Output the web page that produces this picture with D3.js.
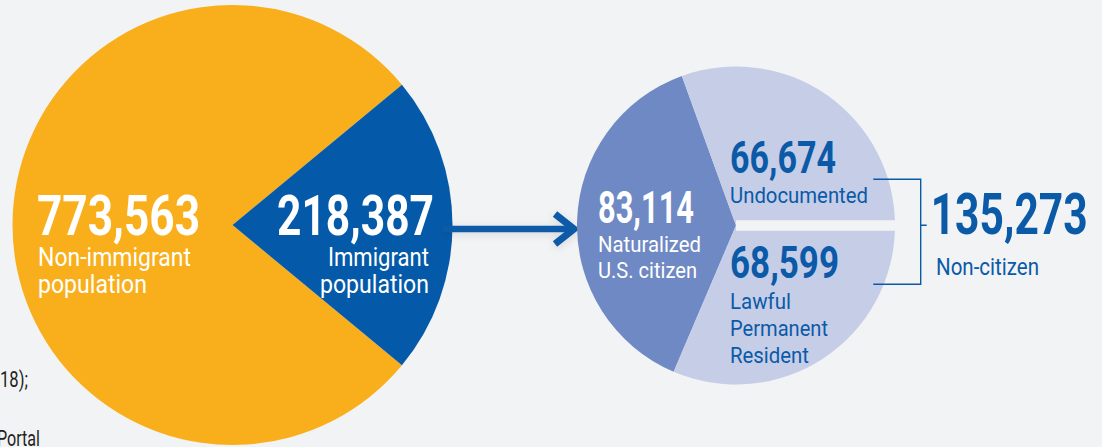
<!DOCTYPE html>
<html>
<head>
<meta charset="utf-8">
<script src="https://cdn.jsdelivr.net/npm/d3@7"></script>
<style>
  html, body { margin: 0; padding: 0; background: #f2f3f5; }
  svg { display: block; }
  text { font-family: Roboto, "Noto Sans", sans-serif; }
</style>
</head>
<body>
<svg id="chart" width="1102" height="447"></svg>
<script>
// ---- data ----
const mainCategories = ["Non-immigrant population", "Immigrant population"];
const mainValues = [773563, 218387];
const subCategories = ["Naturalized U.S. citizen", "Undocumented", "Lawful Permanent Resident"];
const subValues = [83114, 66674, 68599];
const nonCitizenLabel = "Non-citizen";
const nonCitizenValue = subValues[1] + subValues[2];

const mainColors = ["#f9af1b", "#045aa9"];
const subColors = ["#6f89c4", "#c6cde7", "#c6cde7"];
const bg = "#f2f3f5";
const blue = "#0a5aa8";

const fmt = d3.format(",");
const svg = d3.select("#chart");
svg.append("rect").attr("width", 1102).attr("height", 447).attr("fill", bg);

const defs = svg.append("defs");
const f = defs.append("filter").attr("id", "shadow").attr("x", "-20%").attr("y", "-100%").attr("width", "140%").attr("height", "300%");
f.append("feDropShadow").attr("dx", 0).attr("dy", 2).attr("stdDeviation", 4).attr("flood-color", "#000").attr("flood-opacity", 0.12);

// background fragments of cut-off text
svg.append("text").attr("x", 0).attr("y", 387).attr("font-size", 22).attr("fill", "#231f20")
  .attr("textLength", 28).attr("lengthAdjust", "spacingAndGlyphs").text("18);");
svg.append("text").attr("x", -3).attr("y", 446).attr("font-size", 22).attr("fill", "#231f20")
  .attr("textLength", 43).attr("lengthAdjust", "spacingAndGlyphs").text("Portal");

// ---- main pie ----
const mainTotal = d3.sum(mainValues);
const immAngle = mainValues[1] / mainTotal * 2 * Math.PI;
const mainStart = Math.PI / 2 + immAngle / 2;
const mainPie = d3.pie().sort(null).startAngle(mainStart).endAngle(mainStart + 2 * Math.PI);
const mc = { x: 232.5, y: 225, r: 220 };
const mainArc = d3.arc().innerRadius(0).outerRadius(mc.r);
const gMain = svg.append("g").attr("transform", `translate(${mc.x},${mc.y})`);
gMain.selectAll("path").data(mainPie(mainValues)).join("path")
  .attr("d", mainArc).attr("fill", (d, i) => mainColors[i]);

// ---- arrow ----
const sc = { x: 736, y: 225.5, r: 159 };
const arrowY = 229;
const ag = svg.append("g").attr("filter", "url(#shadow)");
ag.append("line").attr("x1", mc.x + mc.r - 10).attr("x2", sc.x - sc.r - 2)
  .attr("y1", arrowY).attr("y2", arrowY).attr("stroke", blue).attr("stroke-width", 6.5);
ag.append("path")
  .attr("d", `M${sc.x - sc.r - 22},${arrowY - 15} L${sc.x - sc.r - 3},${arrowY} L${sc.x - sc.r - 22},${arrowY + 15}`)
  .attr("fill", "none").attr("stroke", blue).attr("stroke-width", 7).attr("stroke-linejoin", "miter");

// ---- sub pie ----
const subTotal = d3.sum(subValues);
// boundary between undocumented and LPR placed horizontally on the right
const subStart = Math.PI / 2 + 2 * Math.PI - (subValues[0] + subValues[1]) / subTotal * 2 * Math.PI;
const subPie = d3.pie().sort(null).startAngle(subStart).endAngle(subStart + 2 * Math.PI);
const subArc = d3.arc().innerRadius(0).outerRadius(sc.r);
const gSub = svg.append("g").attr("transform", `translate(${sc.x},${sc.y})`);
const subArcs = subPie(subValues);
gSub.selectAll("path").data(subArcs).join("path")
  .attr("d", subArc).attr("fill", (d, i) => subColors[i]);
// gap between the two non-citizen slices
const ga = subArcs[1].endAngle;
gSub.append("line").attr("x1", 0).attr("y1", 0)
  .attr("x2", Math.sin(ga) * (sc.r + 3)).attr("y2", -Math.cos(ga) * (sc.r + 3))
  .attr("stroke", bg).attr("stroke-width", 10.5);

// ---- labels ----
function label(x, y, txt, size, weight, color, len, anchor) {
  const t = svg.append("text").attr("x", x).attr("y", y).attr("font-size", size)
    .attr("font-weight", weight).attr("fill", color).attr("text-anchor", anchor || "start").text(txt);
  if (len) t.attr("textLength", len).attr("lengthAdjust", "spacingAndGlyphs");
  return t;
}
// main pie labels
label(37, 235, fmt(mainValues[0]), 56, 700, "#fff", 163);
label(38, 266, "Non-immigrant", 25, 400, "#fff", 153);
label(38, 293, "population", 25, 400, "#fff", 109);
label(434, 235, fmt(mainValues[1]), 56, 700, "#fff", 157, "end");
label(429, 266, "Immigrant", 25, 400, "#fff", 101, "end");
label(429, 293, "population", 25, 400, "#fff", 109, "end");

// sub pie labels
label(598, 222.7, fmt(subValues[0]), 44, 700, "#fff", 96);
label(598, 251.7, "Naturalized", 22, 400, "#fff", 103);
label(598, 278.3, "U.S. citizen", 22, 400, "#fff", 99);
label(730, 173.3, fmt(subValues[1]), 44, 700, blue, 106);
label(730, 203.3, "Undocumented", 22, 400, blue, 138);
label(730, 278.3, fmt(subValues[2]), 44, 700, blue, 109);
label(730, 309.3, "Lawful", 22, 400, blue, 61);
label(730, 336, "Permanent", 22, 400, blue, 98);
label(730, 362.7, "Resident", 22, 400, blue, 79);

// bracket
const bx = 920.7, byTop = 179.3, byBot = 284.3, bxl = 873.3;
svg.append("path")
  .attr("d", `M${bxl},${byTop} H${bx} V${byBot} H${bxl} M${bx},${(byTop + byBot) / 2 - 6.5} H${bx + 6}`)
  .attr("fill", "none").attr("stroke", blue).attr("stroke-width", 1.4);
label(930.7, 234.3, fmt(nonCitizenValue), 58, 700, blue, 157);
label(936, 275, nonCitizenLabel, 23.5, 400, blue, 103);
</script>
</body>
</html>
